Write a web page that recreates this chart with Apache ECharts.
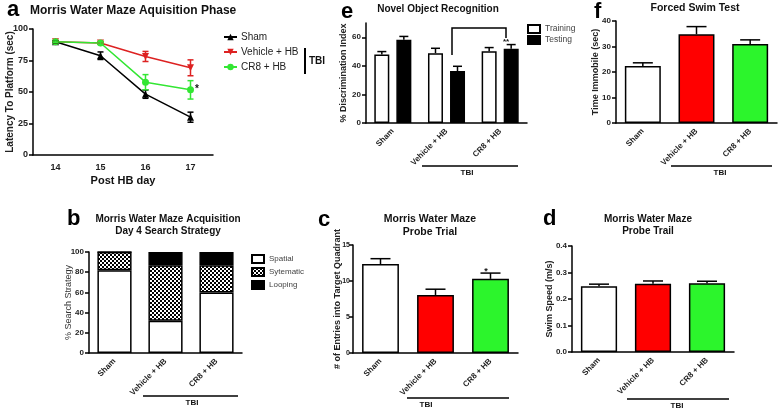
<!DOCTYPE html>
<html>
<head>
<meta charset="UTF-8">
<title>TBI behaviour</title>
<script src="https://cdn.jsdelivr.net/npm/echarts@6/dist/echarts.min.js"></script>
<style>
  html, body { margin: 0; padding: 0; background: #fff; }
  #main { width: 778px; height: 411px; }
</style>
</head>
<body>
<div id="main"></div>
<script>
// a - latency per day
var days = ['14', '15', '16', '17'];
var shamLat = [89.9, 78.8, 48.3, 30.0];
var shamLatErr = [0.8, 3.0, 3.3, 4.0];
var vehLat = [89.9, 88.9, 78.2, 69.2];
var vehLatErr = [0.6, 1.0, 4.0, 6.3];
var cr8Lat = [89.9, 88.9, 57.8, 51.7];
var cr8LatErr = [0.6, 1.0, 6.0, 7.3];

// groups used by b-f
var groups = ['Sham', 'Vehicle + HB', 'CR8 + HB'];
// b - search strategy (%)
var spatial = [82, 32, 60];
var sytematic = [18, 55, 27];
var looping = [0, 13, 13];
// c - probe entries
var probeEntries = [12.35, 8.06, 10.3];
var probeEntriesErr = [0.75, 0.8, 0.8];
// d - swim speed
var swimSpeed = [0.248, 0.258, 0.259];
var swimSpeedErr = [0.008, 0.010, 0.008];
// e - novel object recognition
var norTraining = [48.0, 48.9, 50.3];
var norTrainingErr = [2.0, 3.4, 2.5];
var norTesting = [58.3, 36.4, 51.9];
var norTestingErr = [2.3, 3.3, 3.0];
var norTicks = [0, 20, 40, 60];
// f - forced swim
var immobile = [22.4, 34.8, 31.0];
var immobileErr = [1.2, 3.0, 1.6];

var FONT = '"Liberation Sans", Arial, sans-serif';
var groupColors = ['#ffffff', '#ff0000', '#2cf52c'];

// checker pattern for "Sytematic"
var pat = document.createElement('canvas');
pat.width = 4; pat.height = 4;
var pc = pat.getContext('2d');
pc.fillStyle = '#fff'; pc.fillRect(0, 0, 4, 4);
pc.fillStyle = '#000'; pc.fillRect(0, 0, 2, 2); pc.fillRect(2, 2, 2, 2);

function errData(vals, errs) {
  return vals.map(function (v, i) { return [i, v, errs[i]]; });
}

// error bar drawn through the axis scales
function errSeries(grid, vals, errs, opt) {
  opt = opt || {};
  var color = opt.color || '#000';
  var offset = opt.offset || 0;
  var capW = opt.cap || 14;
  var both = !!opt.both;
  return {
    type: 'custom', xAxisIndex: grid, yAxisIndex: grid, z: 10,
    silent: true,
    data: errData(vals, errs),
    renderItem: function (params, api) {
      var x = api.value(0), y = api.value(1), e = api.value(2);
      var top = api.coord([x, y + e]);
      var mid = api.coord([x, y]);
      var bot = api.coord([x, y - e]);
      var cx = top[0] + offset;
      var st = { stroke: color, lineWidth: 1.5 };
      var kids = [
        { type: 'line', shape: { x1: cx, y1: top[1], x2: cx, y2: both ? bot[1] : mid[1] }, style: st },
        { type: 'line', shape: { x1: cx - capW / 2, y1: top[1], x2: cx + capW / 2, y2: top[1] }, style: st }
      ];
      if (both) kids.push({ type: 'line', shape: { x1: cx - capW / 2, y1: bot[1], x2: cx + capW / 2, y2: bot[1] }, style: st });
      return { type: 'group', children: kids };
    }
  };
}

function yAx(grid, max, interval, name, gap, extra) {
  var ax = {
    type: 'value', gridIndex: grid, min: 0, max: max, interval: interval,
    name: name, nameLocation: 'middle', nameGap: gap, nameRotate: 90, nameMoveOverlap: false,
    nameTextStyle: { fontFamily: FONT, fontSize: 9, fontWeight: 'bold', color: '#222' },
    axisLine: { show: true, lineStyle: { color: '#000', width: 1.5 } },
    axisTick: { show: true, length: 4, lineStyle: { color: '#000', width: 1.5 } },
    axisLabel: { fontFamily: FONT, fontSize: 8, fontWeight: 'bold', color: '#222', margin: 5 },
    splitLine: { show: false }
  };
  if (extra) {
    for (var k in extra) ax[k] = Object.assign({}, ax[k], extra[k]);
  }
  return ax;
}

function xCat(grid, data, rotate) {
  return {
    type: 'category', gridIndex: grid, data: data,
    axisLine: { lineStyle: { color: '#000', width: 1.5 } },
    axisTick: { alignWithLabel: true, length: 4, lineStyle: { color: '#000', width: 1.5 } },
    axisLabel: { fontFamily: FONT, fontSize: rotate ? 8 : 9, fontWeight: 'bold', color: '#222', rotate: rotate || 0, margin: rotate ? 7 : 8, interval: 0 },
    splitLine: { show: false }
  };
}

function colorBars(vals) {
  return vals.map(function (v, i) { return { value: v, itemStyle: { color: groupColors[i] } }; });
}

var barStyle = { borderColor: '#000', borderWidth: 1.5 };

var chart = echarts.init(document.getElementById('main'));

var option = {
  animation: false,
  backgroundColor: '#fff',
  textStyle: { fontFamily: FONT },
  title: [
    { text: 'a', left: 2, top: -6, textStyle: { fontSize: 22, fontWeight: 'bold', color: '#000', fontFamily: FONT } },
    { text: 'Morris Water Maze Aquisition Phase', left: 25, top: 0, textStyle: { fontSize: 12, fontWeight: 'bold', color: '#111', fontFamily: FONT } },
    { text: 'b', left: 62, top: 203, textStyle: { fontSize: 22, fontWeight: 'bold', color: '#000', fontFamily: FONT } },
    { text: 'Morris Water Maze Acquisition\nDay 4 Search Strategy', left: 163, top: 208, textAlign: 'center', textStyle: { fontSize: 10, fontWeight: 'bold', color: '#111', lineHeight: 12, fontFamily: FONT } },
    { text: 'c', left: 313, top: 204, textStyle: { fontSize: 22, fontWeight: 'bold', color: '#000', fontFamily: FONT } },
    { text: 'Morris Water Maze\nProbe Trial', left: 425, top: 208, textAlign: 'center', textStyle: { fontSize: 10.5, fontWeight: 'bold', color: '#111', lineHeight: 13, fontFamily: FONT } },
    { text: 'd', left: 538, top: 203, textStyle: { fontSize: 22, fontWeight: 'bold', color: '#000', fontFamily: FONT } },
    { text: 'Morris Water Maze\nProbe Trail', left: 643, top: 208, textAlign: 'center', textStyle: { fontSize: 10, fontWeight: 'bold', color: '#111', lineHeight: 12, fontFamily: FONT } },
    { text: 'e', left: 336, top: -4, textStyle: { fontSize: 22, fontWeight: 'bold', color: '#000', fontFamily: FONT } },
    { text: 'Novel Object Recognition', left: 433, top: -1, textAlign: 'center', textStyle: { fontSize: 10, fontWeight: 'bold', color: '#111', fontFamily: FONT } },
    { text: 'f', left: 589, top: -4, textStyle: { fontSize: 22, fontWeight: 'bold', color: '#000', fontFamily: FONT } },
    { text: 'Forced Swim Test', left: 690, top: -2, textAlign: 'center', textStyle: { fontSize: 10.5, fontWeight: 'bold', color: '#111', fontFamily: FONT } }
  ],
  legend: [
    {
      data: ['Sham', 'Vehicle + HB', 'CR8 + HB'], orient: 'vertical', left: 223, top: 32, padding: 0,
      itemWidth: 13, itemHeight: 8, itemGap: 5,
      textStyle: { fontFamily: FONT, fontSize: 10, color: '#222', padding: [0, 0, 0, -1] }
    },
    {
      data: ['Spatial', 'Sytematic', 'Looping'], orient: 'vertical', left: 251, top: 254, padding: 0,
      itemWidth: 12, itemHeight: 8, itemGap: 3, icon: 'rect',
      textStyle: { fontFamily: FONT, fontSize: 8, color: '#444' }
    },
    {
      data: ['Training', 'Testing'], orient: 'vertical', left: 527, top: 24, padding: 0,
      itemWidth: 12, itemHeight: 8, itemGap: 1, icon: 'rect',
      textStyle: { fontFamily: FONT, fontSize: 8.5, color: '#444' }
    }
  ],
  grid: [
    { left: 33, top: 29, width: 180, height: 126, outerBoundsMode: 'none' },
    { left: 89, top: 252, width: 153, height: 101, outerBoundsMode: 'none' },
    { left: 353, top: 245, width: 165, height: 108, outerBoundsMode: 'none' },
    { left: 572, top: 246, width: 162, height: 106, outerBoundsMode: 'none' },
    { left: 366, top: 23, width: 161, height: 100, outerBoundsMode: 'none' },
    { left: 616, top: 21, width: 161, height: 102, outerBoundsMode: 'none' }
  ],
  xAxis: [
    Object.assign(xCat(0, days, 0), {
      name: 'Post HB day', nameLocation: 'middle', nameGap: 20, nameMoveOverlap: false,
      nameTextStyle: { fontFamily: FONT, fontSize: 11, fontWeight: 'bold', color: '#111' }
    }),
    xCat(1, groups, 45),
    xCat(2, groups, 45),
    xCat(3, groups, 45),
    xCat(4, groups, 45),
    xCat(5, groups, 45)
  ],
  yAxis: [
    yAx(0, 100, 25, 'Latency To Platform (sec)', 18, { axisLabel: { fontSize: 9 }, nameTextStyle: { fontSize: 10 } }),
    yAx(1, 100, 20, '% Search Strategy', 16, { nameTextStyle: { fontWeight: 'normal', color: '#333' } }),
    yAx(2, 15, 5, '# of Entries into Target Quadrant', 11, { axisLabel: { margin: 3, fontSize: 7 } }),
    yAx(3, 0.4, 0.1, 'Swim Speed (m/s)', 18, { axisLabel: { formatter: function (v) { return v.toFixed(1); } } }),
    yAx(4, 70, 10, '% Discrimination Index', 18, { axisLabel: { customValues: norTicks }, axisTick: { customValues: norTicks } }),
    yAx(5, 40, 10, 'Time Immobile (sec)', 16)
  ],
  series: [
    // a
    { name: 'Sham', type: 'line', xAxisIndex: 0, yAxisIndex: 0, data: shamLat, color: '#000',
      symbol: 'triangle', symbolSize: 7, lineStyle: { width: 1.5 }, z: 5 },
    { name: 'Vehicle + HB', type: 'line', xAxisIndex: 0, yAxisIndex: 0, data: vehLat, color: '#dd2222',
      symbol: 'triangle', symbolRotate: 180, symbolSize: 7, lineStyle: { width: 1.5 }, z: 4 },
    { name: 'CR8 + HB', type: 'line', xAxisIndex: 0, yAxisIndex: 0, data: cr8Lat, color: '#33e633',
      symbol: 'circle', symbolSize: 7, lineStyle: { width: 1.5 }, z: 6 },
    errSeries(0, vehLat, vehLatErr, { color: '#dd2222', both: true, cap: 6 }),
    errSeries(0, shamLat, shamLatErr, { color: '#000', both: true, cap: 6 }),
    errSeries(0, cr8Lat, cr8LatErr, { color: '#33e633', both: true, cap: 6 }),
    // b
    { name: 'Spatial', type: 'bar', stack: 'b', xAxisIndex: 1, yAxisIndex: 1, data: spatial, barWidth: '67%',
      itemStyle: Object.assign({ color: '#fff' }, barStyle) },
    { name: 'Sytematic', type: 'bar', stack: 'b', xAxisIndex: 1, yAxisIndex: 1, data: sytematic, barWidth: '67%',
      itemStyle: Object.assign({ color: { image: pat, repeat: 'repeat' } }, barStyle) },
    { name: 'Looping', type: 'bar', stack: 'b', xAxisIndex: 1, yAxisIndex: 1, data: looping, barWidth: '67%',
      itemStyle: Object.assign({ color: '#000' }, barStyle) },
    // c
    { name: 'Entries', type: 'bar', xAxisIndex: 2, yAxisIndex: 2, data: colorBars(probeEntries), barWidth: '67%', itemStyle: barStyle },
    errSeries(2, probeEntries, probeEntriesErr, { cap: 20 }),
    // d
    { name: 'Speed', type: 'bar', xAxisIndex: 3, yAxisIndex: 3, data: colorBars(swimSpeed), barWidth: '67%', itemStyle: barStyle },
    errSeries(3, swimSpeed, swimSpeedErr, { cap: 20 }),
    // e
    { name: 'Training', type: 'bar', xAxisIndex: 4, yAxisIndex: 4, data: norTraining, barWidth: 15, barGap: '47%',
      itemStyle: Object.assign({ color: '#fff' }, barStyle) },
    { name: 'Testing', type: 'bar', xAxisIndex: 4, yAxisIndex: 4, data: norTesting, barWidth: 15, barGap: '47%',
      itemStyle: Object.assign({ color: '#000' }, barStyle) },
    errSeries(4, norTraining, norTrainingErr, { offset: -11, cap: 9 }),
    errSeries(4, norTesting, norTestingErr, { offset: 11, cap: 9 }),
    // f
    { name: 'Immobile', type: 'bar', xAxisIndex: 5, yAxisIndex: 5, data: colorBars(immobile), barWidth: '67%', itemStyle: barStyle },
    errSeries(5, immobile, immobileErr, { cap: 20 })
  ],
  graphic: [
    // a: TBI bracket in legend
    { type: 'line', shape: { x1: 305, y1: 48, x2: 305, y2: 74 }, style: { stroke: '#000', lineWidth: 2 } },
    { type: 'text', x: 309, y: 61, style: { text: 'TBI', font: 'bold 10px ' + FONT, fill: '#111', verticalAlign: 'middle' } },
    { type: 'text', x: 197, y: 89, style: { text: '*', font: 'bold 10px ' + FONT, fill: '#111', align: 'center', verticalAlign: 'middle' } },
    // b
    { type: 'line', shape: { x1: 143, y1: 396, x2: 238, y2: 396 }, style: { stroke: '#000', lineWidth: 1.5 } },
    { type: 'text', x: 192, y: 403, style: { text: 'TBI', font: 'bold 8px ' + FONT, fill: '#111', align: 'center', verticalAlign: 'middle' } },
    // c
    { type: 'line', shape: { x1: 407, y1: 398, x2: 509, y2: 398 }, style: { stroke: '#000', lineWidth: 1.5 } },
    { type: 'text', x: 426, y: 405, style: { text: 'TBI', font: 'bold 8px ' + FONT, fill: '#111', align: 'center', verticalAlign: 'middle' } },
    { type: 'text', x: 486, y: 272, style: { text: '*', font: 'bold 9px ' + FONT, fill: '#111', align: 'center', verticalAlign: 'middle' } },
    // d
    { type: 'line', shape: { x1: 627, y1: 399, x2: 729, y2: 399 }, style: { stroke: '#000', lineWidth: 1.5 } },
    { type: 'text', x: 677, y: 406, style: { text: 'TBI', font: 'bold 8px ' + FONT, fill: '#111', align: 'center', verticalAlign: 'middle' } },
    // e
    { type: 'polyline', shape: { points: [[452, 55], [452, 28], [506, 28], [506, 38]] }, style: { stroke: '#000', lineWidth: 1.5, fill: null } },
    { type: 'text', x: 506, y: 42, style: { text: '**', font: 'bold 8px ' + FONT, fill: '#111', align: 'center', verticalAlign: 'middle' } },
    { type: 'line', shape: { x1: 422, y1: 166, x2: 518, y2: 166 }, style: { stroke: '#000', lineWidth: 1.5 } },
    { type: 'text', x: 467, y: 173, style: { text: 'TBI', font: 'bold 8px ' + FONT, fill: '#111', align: 'center', verticalAlign: 'middle' } },
    // f
    { type: 'line', shape: { x1: 671, y1: 166, x2: 772, y2: 166 }, style: { stroke: '#000', lineWidth: 1.5 } },
    { type: 'text', x: 720, y: 173, style: { text: 'TBI', font: 'bold 8px ' + FONT, fill: '#111', align: 'center', verticalAlign: 'middle' } }
  ]
};

chart.setOption(option);
</script>
</body>
</html>
